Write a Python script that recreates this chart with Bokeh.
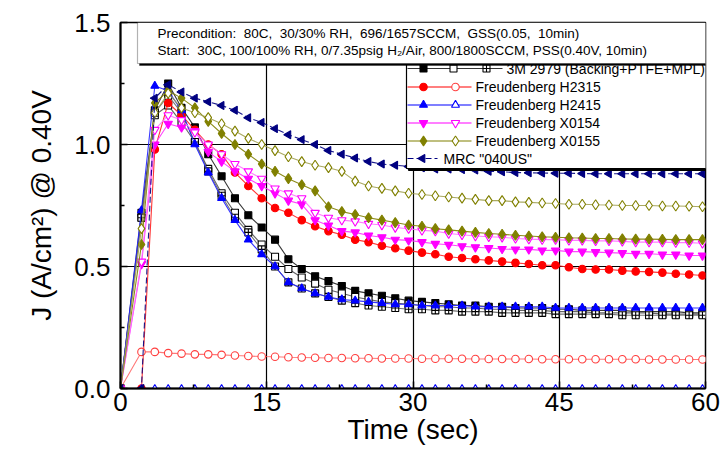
import numpy as np
from bokeh.plotting import figure
from bokeh.models import Range1d, FixedTicker, PrintfTickFormatter, BoxAnnotation, Label
from bokeh.core.properties import value
from bokeh.embed import file_html
from bokeh.resources import INLINE

# ---------------- data ----------------
time_s = [0, 2.15, 3.52, 4.89, 6.26, 7.63, 9.0, 10.37, 11.74, 13.11, 14.48,
          15.85, 17.22, 18.59, 19.96, 21.33, 22.7, 24.07, 25.44, 26.81, 28.18, 29.55,
          30.92, 32.29, 33.66, 35.03, 36.4, 37.77, 39.14, 40.51, 41.88, 43.25, 44.62,
          45.99, 47.36, 48.73, 50.1, 51.47, 52.84, 54.21, 55.58, 56.95, 58.32, 59.69]

m3_filled = [0, 0.72, 1.14, 1.25, 1.15, 1.07, 0.96, 0.87, 0.78, 0.71, 0.66,
             0.61, 0.53, 0.49, 0.46, 0.44, 0.42, 0.40, 0.39, 0.38, 0.37, 0.36,
             0.355, 0.35, 0.345, 0.34, 0.34, 0.335, 0.335, 0.33, 0.33, 0.33, 0.325,
             0.325, 0.32, 0.32, 0.32, 0.32, 0.315, 0.315, 0.315, 0.315, 0.31, 0.31]
m3_open = [0, 0.70, 1.12, 1.16, 1.09, 1.01, 0.90, 0.80, 0.72, 0.65, 0.59,
           0.54, 0.49, 0.455, 0.43, 0.405, 0.39, 0.375, 0.365, 0.355, 0.35, 0.345,
           0.34, 0.335, 0.335, 0.33, 0.33, 0.325, 0.325, 0.32, 0.32, 0.32, 0.315,
           0.315, 0.315, 0.31, 0.31, 0.31, 0.31, 0.31, 0.305, 0.305, 0.305, 0.305]
m3_cross = [0, 0.70, 1.13, 1.20, 1.13, 1.01, 0.89, 0.79, 0.70, 0.64, 0.57,
            0.50, 0.435, 0.41, 0.39, 0.375, 0.36, 0.35, 0.34, 0.335, 0.33, 0.325,
            0.325, 0.32, 0.32, 0.315, 0.315, 0.315, 0.31, 0.31, 0.31, 0.31, 0.305,
            0.305, 0.305, 0.305, 0.305, 0.30, 0.30, 0.30, 0.30, 0.30, 0.30, 0.30]
h2315_filled = [0, 0, 0.98, 1.17, 1.12, 1.06, 1.00, 0.96, 0.885, 0.83, 0.78,
                0.74, 0.72, 0.69, 0.665, 0.645, 0.63, 0.61, 0.60, 0.585, 0.575, 0.565,
                0.557, 0.55, 0.54, 0.535, 0.53, 0.525, 0.52, 0.515, 0.51, 0.505, 0.505,
                0.497, 0.49, 0.488, 0.488, 0.483, 0.48, 0.478, 0.475, 0.47, 0.467, 0.463]
h2315_open = [0, 0.15, 0.15, 0.145, 0.143, 0.14, 0.14, 0.138, 0.135, 0.133, 0.131,
              0.13, 0.128, 0.127, 0.126, 0.125, 0.125, 0.124, 0.124, 0.123, 0.123, 0.123,
              0.122, 0.122, 0.122, 0.122, 0.121, 0.121, 0.121, 0.121, 0.121, 0.12, 0.12,
              0.12, 0.12, 0.12, 0.12, 0.12, 0.12, 0.119, 0.119, 0.119, 0.119, 0.119]
h2415_filled = [0, 0.73, 1.24, 1.22, 1.14, 1.00, 0.885, 0.78, 0.69, 0.61, 0.55,
                0.50, 0.435, 0.41, 0.39, 0.375, 0.365, 0.36, 0.355, 0.35, 0.345, 0.345,
                0.34, 0.34, 0.34, 0.34, 0.335, 0.335, 0.335, 0.335, 0.335, 0.335, 0.33,
                0.33, 0.33, 0.33, 0.33, 0.33, 0.33, 0.33, 0.33, 0.33, 0.33, 0.33]
h2415_open = [0, 0, 0, 0, 0, 0, 0, 0, 0, 0, 0,
              0, 0, 0, 0, 0, 0, 0, 0, 0, 0, 0,
              0, 0, 0, 0, 0, 0, 0, 0, 0, 0, 0,
              0, 0, 0, 0, 0, 0, 0, 0, 0, 0, 0]
x0154_filled = [0, 0.51, 1.00, 1.085, 1.07, 1.055, 0.97, 0.93, 0.89, 0.86, 0.83,
                0.80, 0.77, 0.755, 0.69, 0.668, 0.645, 0.64, 0.627, 0.62, 0.61, 0.607,
                0.60, 0.593, 0.589, 0.583, 0.579, 0.576, 0.572, 0.57, 0.57, 0.566, 0.566,
                0.561, 0.561, 0.559, 0.557, 0.555, 0.552, 0.552, 0.549, 0.549, 0.545, 0.545]
x0154_open = [0, 0.52, 1.06, 1.12, 1.10, 1.05, 1.00, 0.96, 0.92, 0.89, 0.86,
              0.82, 0.80, 0.78, 0.72, 0.70, 0.69, 0.685, 0.675, 0.67, 0.66, 0.655,
              0.648, 0.645, 0.635, 0.63, 0.625, 0.622, 0.62, 0.615, 0.612, 0.61, 0.61,
              0.607, 0.607, 0.605, 0.605, 0.603, 0.60, 0.60, 0.60, 0.598, 0.598, 0.595]
x0155_filled = [0, 0.59, 1.17, 1.22, 1.19, 1.15, 1.095, 1.045, 1.00, 0.96, 0.92,
                0.89, 0.86, 0.835, 0.81, 0.745, 0.725, 0.713, 0.70, 0.69, 0.68, 0.67,
                0.665, 0.655, 0.65, 0.645, 0.64, 0.635, 0.632, 0.628, 0.625, 0.622, 0.62,
                0.618, 0.617, 0.615, 0.615, 0.613, 0.612, 0.612, 0.611, 0.61, 0.61, 0.61]
x0155_open = [0, 0.655, 1.13, 1.21, 1.15, 1.13, 1.11, 1.085, 1.055, 1.025, 1.0,
              0.975, 0.95, 0.93, 0.915, 0.905, 0.89, 0.85, 0.83, 0.82, 0.81, 0.80,
              0.795, 0.79, 0.785, 0.78, 0.775, 0.77, 0.77, 0.765, 0.763, 0.76, 0.758,
              0.755, 0.755, 0.753, 0.752, 0.75, 0.75, 0.75, 0.748, 0.748, 0.747, 0.745]
mrc_040us = [0, 0, 1.19, 1.245, 1.215, 1.19, 1.175, 1.16, 1.14, 1.11, 1.09,
             1.065, 1.04, 1.02, 1.00, 0.975, 0.96, 0.945, 0.93, 0.92, 0.915, 0.91,
             0.905, 0.90, 0.90, 0.897, 0.895, 0.89, 0.888, 0.885, 0.884, 0.883, 0.882,
             0.882, 0.881, 0.88, 0.88, 0.88, 0.88, 0.88, 0.88, 0.88, 0.88, 0.88]

legend_labels = ["3M 2979 (Backing+PTFE+MPL)", "Freudenberg H2315", "Freudenberg H2415",
                 "Freudenberg X0154", "Freudenberg X0155", 'MRC "040US"']
x_ticks = [0, 15, 30, 45, 60]
y_ticks = [0.0, 0.5, 1.0, 1.5]
NB = "\u00a0"
note_lines = ["Precondition:" + NB * 2 + "80C," + NB * 2 + "30/30%" + NB + "RH," + NB * 2
              + "696/1657SCCM," + NB * 2 + "GSS(0.05," + NB * 2 + "10min)",
              "Start:" + NB * 2 + "30C, 100/100% RH, 0/7.35psig H\u2082/Air, 800/1800SCCM, PSS(0.40V, 10min)"]

FONT = "Liberation Sans"
OLIVE = "#808000"
NAVY = "#000080"

p = figure(width=724, height=452, output_backend="svg", toolbar_location=None,
           x_range=Range1d(0, 60), y_range=Range1d(0, 1.5),
           min_border_left=120, min_border_right=19, min_border_top=22, min_border_bottom=64)
# pixel-like helper ranges for decorations (legend, note box)
p.extra_x_ranges = {"px": Range1d(120, 705)}
p.extra_y_ranges = {"px": Range1d(388, 22)}

p.background_fill_color = "white"
p.border_fill_color = "white"
p.outline_line_color = "black"
p.outline_line_width = 1.5
p.outline_line_alpha = 1

# axes
p.xaxis.ticker = FixedTicker(ticks=x_ticks, minor_ticks=[7.5, 22.5, 37.5, 52.5])
p.yaxis.ticker = FixedTicker(ticks=y_ticks, minor_ticks=[0.25, 0.75, 1.25])
p.yaxis.formatter = PrintfTickFormatter(format="%.1f")
for ax in (p.xaxis, p.yaxis):
    ax.axis_line_width = 2
    ax.axis_line_color = "black"
    ax.major_tick_in = 7
    ax.major_tick_out = 0
    ax.minor_tick_in = 4
    ax.minor_tick_out = 0
    ax.major_tick_line_color = "black"
    ax.minor_tick_line_color = "black"
    ax.major_tick_line_width = 1.5
    ax.minor_tick_line_width = 1.5
    ax.major_label_text_font = FONT
    ax.major_label_text_font_size = "26px"
    ax.major_label_text_color = "black"
    ax.axis_label_text_font = FONT
    ax.axis_label_text_font_size = "28px"
    ax.axis_label_text_font_style = "normal"
    ax.axis_label_text_color = "black"
p.xaxis.axis_label = "Time (sec)"
p.yaxis.axis_label = "J (A/cm\u00b2) @ 0.40V"
p.xaxis.major_label_standoff = 4
p.xaxis.axis_label_standoff = 0
p.yaxis.major_label_standoff = 10
p.yaxis.axis_label_standoff = 14

p.xgrid.ticker = FixedTicker(ticks=[15, 30, 45])
p.ygrid.ticker = FixedTicker(ticks=[0.5, 1.0])
p.xgrid.grid_line_color = "black"
p.ygrid.grid_line_color = "black"
p.xgrid.grid_line_width = 1.2
p.ygrid.grid_line_width = 1.2

# ---------------- series ----------------
series = [
    # values, marker, edge colour, fill, line colour, dash, size, angle
    (m3_filled, "square", "black", "black", "#222222", "solid", 7, 0),
    (m3_open, "square", "black", "white", "#555555", "solid", 7, 0),
    (m3_cross, "square_cross", "black", "white", "#666666", "solid", 7, 0),
    (h2315_filled, "circle", "red", "red", "#ff2020", "solid", 7.5, 0),
    (h2315_open, "circle", "#ff4040", "white", "#ff6a6a", "solid", 7.5, 0),
    (h2415_filled, "triangle", "blue", "blue", "#2020ff", "solid", 8, 0),
    (h2415_open, "triangle", "blue", "white", "#2020ff", "solid", 7, 0),
    (x0154_filled, "inverted_triangle", "magenta", "magenta", "#ff30ff", "solid", 8.5, 0),
    (x0154_open, "inverted_triangle", "magenta", "white", "#ff70ff", "solid", 8.5, 0),
    (x0155_filled, "diamond", OLIVE, OLIVE, OLIVE, "solid", 10, 0),
    (x0155_open, "diamond", OLIVE, "white", "#a0a050", "solid", 10, 0),
    (mrc_040us, "triangle", NAVY, NAVY, NAVY, "6 3", 8, np.pi / 2),
]
for vals, mk, ec, fc, lc, dash, size, ang in series:
    p.line(time_s, vals, line_color=lc, line_width=1.1, line_alpha=0.9, line_dash=dash)
    p.scatter(time_s, vals, marker=mk, size=size, line_color=ec, fill_color=fc,
              line_width=1.1, angle=ang)

# ---------------- legend (drawn as decoration in pixel-like range) ----------------
p.quad(left=[408], right=[710], top=[64], bottom=[170], fill_color="black", line_color="black",
       x_range_name="px", y_range_name="px")
p.quad(left=[406], right=[707], top=[62], bottom=[168], fill_color="white", line_color="black",
       line_width=1.2, x_range_name="px", y_range_name="px")

row_y = [68, 86.5, 104.5, 122.5, 140.5, 158]
legend_specs = [
    ("#333333", "solid", 502, [(423, "square", "black", "black", 7), (453, "square", "black", "white", 7),
                                (486, "square_cross", "black", "white", 7)], 506),
    ("red", "solid", 471, [(423, "circle", "red", "red", 7.5), (455, "circle", "#ff4040", "white", 7.5)], 475),
    ("blue", "solid", 471, [(423, "triangle", "blue", "blue", 8), (455, "triangle", "blue", "white", 8)], 475),
    ("magenta", "solid", 471, [(423, "inverted_triangle", "magenta", "magenta", 8.5),
                                (455, "inverted_triangle", "magenta", "white", 8.5)], 475),
    (OLIVE, "solid", 471, [(423, "diamond", OLIVE, OLIVE, 10), (455, "diamond", OLIVE, "white", 10)], 475),
    (NAVY, "6 3", 437, [(422, "triangle", NAVY, NAVY, 8)], 443),
]
for (lc, dash, xend, markers, tx), ry, lab in zip(legend_specs, row_y, legend_labels):
    p.line([407, xend], [ry, ry], line_color=lc, line_width=1.1, line_dash=dash,
           x_range_name="px", y_range_name="px")
    for mx, mk, ec, fc, sz in markers:
        ang = np.pi / 2 if lab.startswith("MRC") else 0
        p.scatter([mx], [ry], marker=mk, size=sz, line_color=ec, fill_color=fc, line_width=1.1,
                  angle=ang, x_range_name="px", y_range_name="px")
    p.text([tx], [ry], text=[lab], text_font=value(FONT), text_font_size=value("14px"),
           text_baseline="middle", text_align="left", text_color="black",
           x_range_name="px", y_range_name="px")

# ---------------- condition note box (on top) ----------------
p.add_layout(BoxAnnotation(left=139, right=719, top=24, bottom=65, x_range_name="px", y_range_name="px",
                           fill_color="black", fill_alpha=1, line_color="black"))
p.add_layout(BoxAnnotation(left=137, right=717, top=22, bottom=63, x_range_name="px", y_range_name="px",
                           fill_color="white", fill_alpha=1, line_color="black", line_width=1.2))
for ny, txt in zip([33, 50], note_lines):
    p.add_layout(Label(x=157, y=ny, x_range_name="px", y_range_name="px", text=txt,
                       text_font=FONT, text_font_size="13.5px", text_baseline="middle",
                       text_align="left", text_color="black"))

open("out.html", "w").write(file_html(p, INLINE))
